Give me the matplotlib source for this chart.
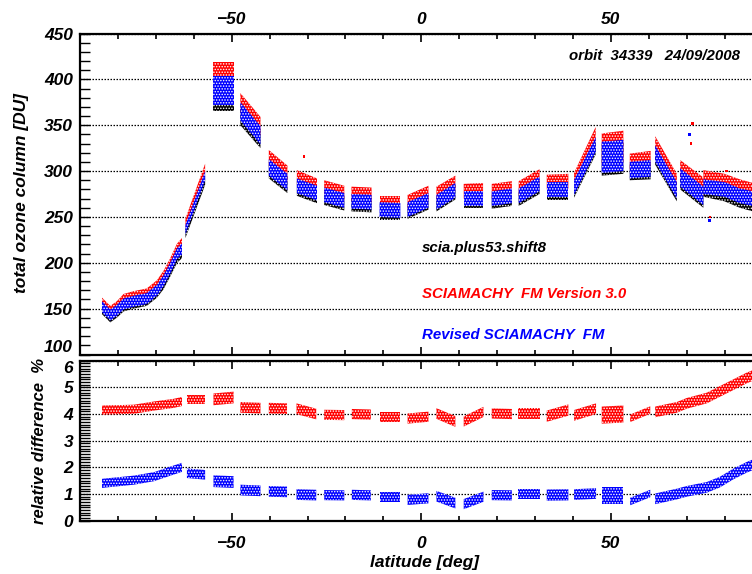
import numpy as np
import matplotlib
matplotlib.use("Agg")
import matplotlib.pyplot as plt
from matplotlib.ticker import MultipleLocator

plt.rcParams['font.family'] = ['Liberation Sans', 'DejaVu Sans']
plt.rcParams['font.weight'] = 'bold'
plt.rcParams['font.style'] = 'italic'
plt.rcParams['hatch.linewidth'] = 0.7

# ---- total ozone per scan (latitude nodes, scan centre values, half spread) ----
scan_lat = [
    [-84.2, -82.0, -80.3, -78.5, -75.9, -72.4, -69.7, -68.0, -66.2, -64.4, -63.1],
    [-62.2, -57.0], [-54.8, -49.4], [-47.7, -42.4], [-40.2, -35.3],
    [-32.8, -27.5], [-25.6, -20.3], [-18.4, -13.1], [-11.0, -5.5],
    [-3.6, 1.9], [4.0, 9.0], [11.2, 16.3], [18.6, 23.9], [25.7, 31.2],
    [33.1, 38.8], [40.3, 46.0], [47.6, 53.3], [55.0, 60.5], [61.7, 67.4],
    [68.3, 74.4], [74.4, 80.0, 84.0, 87.5],
]
ozone_shift8 = [
    [150, 141, 146, 153, 156, 159, 168, 177, 191, 206, 211],
    [232, 290], [382, 382], [360, 335], [301, 285], [281, 273], [271, 265],
    [264, 263], [255, 255], [256, 266], [264, 277], [268, 268], [267, 270],
    [270, 283], [277, 277], [279, 326], [312, 314], [299, 300], [316, 276],
    [290, 270], [280, 275, 268, 264],
]
ozone_revised = [
    [152, 143, 148, 155, 158, 161, 170, 180, 194, 210, 215],
    [236, 295], [388, 388], [365, 339], [304, 288], [284, 276], [274, 268],
    [267, 266], [258, 257], [258, 268], [266, 279], [270, 270], [270, 273],
    [273, 286], [280, 280], [282, 329], [315, 317], [301, 303], [319, 279],
    [293, 273], [283, 280, 273, 270],
]
ozone_v30 = [
    [156, 147, 152, 160, 163, 166, 175, 185, 199, 215, 221],
    [243, 303], [403, 403], [375, 349], [314, 297], [293, 284], [282, 276],
    [275, 274], [265, 265], [266, 276], [275, 287], [278, 279], [278, 281],
    [281, 294], [288, 289], [290, 340], [324, 327], [310, 313], [329, 288],
    [302, 283], [293, 289, 283, 279],
]
ozone_spread = [6, 5, 16, 10, 9, 8, 8, 8, 8, 8, 8, 8, 8, 8, 8, 8, 17, 9, 9, 10, 8]

# isolated pixels standing out of their scans
outlier_lat = [-31.0, 70.8, 71.5, 71.2, 76.0, 76.2, 80.5]
outlier_ozone = [316, 340, 352, 330, 246, 250, 300]
outlier_color = ['red', 'blue', 'red', 'red', 'blue', 'red', 'red']

# ---- relative difference to scia.plus53.shift8 [%] ----
diff_lat = [
    [-84.2, -75.8, -70.5, -65.3, -63.1], [-61.8, -57.0], [-54.8, -49.5],
    [-47.7, -42.4], [-40.2, -35.4], [-32.9, -27.7], [-25.6, -20.3],
    [-18.3, -13.3], [-11.0, -5.7], [-3.6, 1.9], [4.0, 9.0], [11.2, 16.4],
    [18.6, 23.9], [25.6, 31.2], [33.1, 38.8], [40.3, 46.1], [47.6, 53.3],
    [55.1, 60.4], [61.7, 67.4, 70.0, 75.3, 78.8, 82.3, 85.8, 87.5],
]
diff_v30 = [
    [4.15, 4.18, 4.30, 4.40, 4.47], [4.55, 4.55], [4.55, 4.62], [4.25, 4.22],
    [4.22, 4.20], [4.20, 4.00], [3.97, 3.96], [4.00, 3.98], [3.90, 3.90],
    [3.83, 3.90], [4.02, 3.72], [3.72, 4.08], [4.02, 4.00], [4.02, 4.02],
    [3.92, 4.15], [3.95, 4.20], [3.96, 4.00], [3.84, 4.15],
    [4.08, 4.25, 4.40, 4.60, 4.85, 5.10, 5.35, 5.45],
]
diff_revised = [
    [1.40, 1.52, 1.65, 1.90, 2.00], [1.78, 1.72], [1.48, 1.45], [1.15, 1.12],
    [1.10, 1.08], [0.98, 0.96], [0.96, 0.95], [0.97, 0.95], [0.90, 0.90],
    [0.78, 0.84], [0.92, 0.66], [0.62, 0.90], [0.96, 0.95], [1.00, 1.00],
    [0.96, 0.97], [0.98, 1.02], [0.96, 0.96], [0.72, 1.02],
    [0.82, 1.00, 1.10, 1.25, 1.45, 1.75, 2.00, 2.10],
]
diff_spread = [0.17, 0.18, 0.22, 0.20, 0.20, 0.20, 0.19, 0.19, 0.18, 0.19,
               0.20, 0.19, 0.19, 0.19, 0.21, 0.20, 0.32, 0.14, 0.20]

W, H = 752, 574
fig = plt.figure(figsize=(W / 100, H / 100), dpi=100)
x_left, x_right = 80, 762.5
ax1 = fig.add_axes([x_left / W, 1 - 354.5 / H, (x_right - x_left) / W, 321 / H])
ax2 = fig.add_axes([x_left / W, 1 - 520.7 / H, (x_right - x_left) / W, 160 / H])


def draw_scans(ax, lats, centres, spreads, color, z, grain='......'):
    """Each scan is a band of pixels; fine white dot hatching gives it grain."""
    for la, ce, hw in zip(lats, centres, spreads):
        la = np.asarray(la, float)
        ce = np.asarray(ce, float)
        ax.fill_between(la, ce - hw, ce + hw, facecolor=color,
                        edgecolor='white', hatch=grain, linewidth=0,
                        zorder=z)


draw_scans(ax1, scan_lat, ozone_shift8, ozone_spread, 'black', 3)
draw_scans(ax1, scan_lat, ozone_v30, ozone_spread, '#ff0000', 4)
draw_scans(ax1, scan_lat, ozone_revised, ozone_spread, '#0000ff', 5)
ax1.scatter(outlier_lat, outlier_ozone, s=3, c=outlier_color, marker='s',
            linewidths=0, zorder=6)

draw_scans(ax2, diff_lat, diff_v30, diff_spread, '#ff0000', 4)
draw_scans(ax2, diff_lat, diff_revised, diff_spread, '#0000ff', 4)

grid_style = dict(color='black', linestyle=(0, (1.2, 1.2)), linewidth=0.9)
for ax in (ax1, ax2):
    ax.set_xlim(-90, 90)
    ax.xaxis.set_major_locator(MultipleLocator(50))
    ax.xaxis.set_minor_locator(MultipleLocator(10))
    ax.tick_params(axis='x', which='both', direction='in', top=True,
                   bottom=True, labelsize=12.5, width=1.2)
    ax.tick_params(axis='x', which='major', length=6)
    ax.tick_params(axis='x', which='minor', length=3.5)
    ax.tick_params(axis='y', which='both', direction='in', left=True,
                   right=False, length=7.2, width=1.0, labelsize=12.5, pad=5)
    ax.grid(axis='y', which='major', **grid_style)
    ax.set_axisbelow(True)
    for sp in ax.spines.values():
        sp.set_linewidth(1.6)

ax1.set_ylim(100, 450)
ax1.yaxis.set_major_locator(MultipleLocator(50))
ax1.yaxis.set_minor_locator(MultipleLocator(10))
ax1.tick_params(axis='x', labeltop=True, labelbottom=False, pad=5)

ax2.set_ylim(0, 6)
ax2.yaxis.set_major_locator(MultipleLocator(1))
ax2.yaxis.set_minor_locator(MultipleLocator(0.1))
ax2.tick_params(axis='x', labeltop=False, labelbottom=True, pad=11)

# keep the labels at the shared panel edge apart: 100 sits above, 6 below
fig.canvas.draw()
for tick in ax1.yaxis.get_major_ticks():
    if abs(tick.get_loc() - 100) < 1e-6:
        tick.label1.set_verticalalignment('bottom')
for tick in ax2.yaxis.get_major_ticks():
    if abs(tick.get_loc() - 6) < 1e-6:
        tick.label1.set_verticalalignment('top')

fig.text(22 / W, 1 - 193 / H, 'total ozone column [DU]', rotation=90,
         ha='center', va='center', fontsize=12.5)
fig.text(40 / W, 1 - 441.5 / H, 'relative difference  %', rotation=90,
         ha='center', va='center', fontsize=12)
fig.text(424.5 / W, 1 - 563 / H, 'latitude [deg]', ha='center', va='center',
         fontsize=12.5)

fig.text(740 / W, 1 - 56 / H, 'orbit  34339   24/09/2008', ha='right',
         va='center', fontsize=10.8)
fig.text(422 / W, 1 - 248 / H, 'scia.plus53.shift8', ha='left', va='center',
         fontsize=10.8, color='black')
fig.text(422 / W, 1 - 294 / H, 'SCIAMACHY  FM Version 3.0', ha='left',
         va='center', fontsize=10.8, color='#ff0000')
fig.text(422 / W, 1 - 335 / H, 'Revised SCIAMACHY  FM', ha='left',
         va='center', fontsize=10.8, color='#0000ff')

fig.savefig('out.png', dpi=100)
